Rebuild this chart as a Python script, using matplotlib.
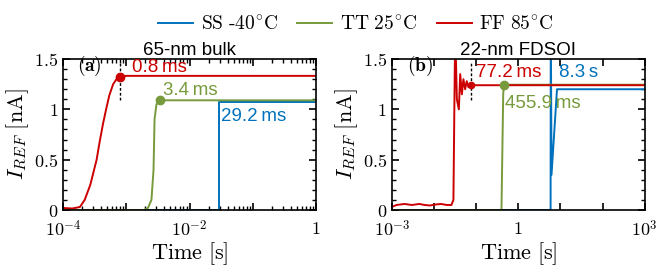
import matplotlib
matplotlib.use('Agg')
import matplotlib.pyplot as plt
from matplotlib.ticker import LogLocator, MultipleLocator, FixedLocator, NullFormatter
import numpy as np

plt.rcParams['mathtext.fontset'] = 'cm'
plt.rcParams['font.family'] = 'serif'
plt.rcParams['font.serif'] = ['DejaVu Serif']

blue = '#0072BD'
green = '#779B3C'
red = '#CC0000'

# panel (a): 65-nm bulk
a_ss_t = [1e-4, 0.0292, 0.0292, 1.0]
a_ss_i = [0.0, 0.0, 1.075, 1.075]
a_tt_t = [1e-4, 1.9e-3, 2.2e-3, 2.5e-3, 2.7e-3, 2.8e-3, 3.0e-3, 3.4e-3, 1.0]
a_tt_i = [0.0, 0.0, 0.02, 0.1, 0.4, 0.9, 1.05, 1.09, 1.09]
a_ff_t = [1e-4, 1.4e-4, 1.85e-4, 2.2e-4, 2.7e-4, 3.1e-4, 3.4e-4, 3.8e-4, 4.3e-4,
          4.8e-4, 5.4e-4, 6.2e-4, 7.0e-4, 8e-4, 1e-3, 1.0]
a_ff_i = [0.02, 0.015, 0.03, 0.1, 0.25, 0.4, 0.5, 0.68, 0.86, 1.0, 1.14, 1.25,
          1.3, 1.32, 1.333, 1.333]
a_marks = [(8e-4, 1.32, '0.8\u2009ms'), (3.4e-3, 1.09, '3.4\u2009ms'), (0.0292, 1.075, '29.2\u2009ms')]

# panel (b): 22-nm FDSOI
b_ss_t = [1e-3, 5.85, 5.9, 6.15, 8.3, 1000.0]
b_ss_i = [0.0, 0.0, 2.0, 0.35, 1.2, 1.2]
b_tt_t = [1e-3, 0.40, 0.42, 0.44, 0.4559, 1000.0]
b_tt_i = [0.0, 0.0, 0.6, 1.15, 1.245, 1.245]
b_ff_t = [1e-3, 1.3e-3, 2e-3, 3e-3, 4.5e-3, 6e-3, 8e-3, 1.1e-2, 1.5e-2, 2e-2, 2.6e-2,
          2.9e-2, 3.05e-2, 3.2e-2, 3.5e-2, 3.9e-2, 4.2e-2, 4.6e-2, 5.0e-2, 5.5e-2,
          6.0e-2, 6.6e-2, 7.2e-2, 0.0772, 0.1, 1000.0]
b_ff_i = [0.03, 0.05, 0.06, 0.05, 0.06, 0.05, 0.045, 0.055, 0.06, 0.05, 0.05,
          0.1, 1.0, 1.8, 1.1, 1.0, 1.35, 1.15, 1.3, 1.2, 1.28, 1.22, 1.25, 1.24, 1.24, 1.24]
b_marks = [(0.0772, 1.24, '77.2\u2009ms'), (0.4559, 1.245, '455.9\u2009ms'), (8.3, 1.2, '8.3\u2009s')]

fig = plt.figure(figsize=(6.64, 2.66), dpi=100)
ax_a = fig.add_axes([0.0949, 0.2105, 0.381, 0.5675])
ax_b = fig.add_axes([0.590, 0.2105, 0.381, 0.5675])

lw = 1.4
for ax, ss, tt, ff in [(ax_a, (a_ss_t, a_ss_i), (a_tt_t, a_tt_i), (a_ff_t, a_ff_i)),
                       (ax_b, (b_ss_t, b_ss_i), (b_tt_t, b_tt_i), (b_ff_t, b_ff_i))]:
    ax.plot(*ss, color=blue, lw=lw, label=r'$\mathrm{SS\ \text{-}40^{\circ}C}$')
    ax.plot(*tt, color=green, lw=lw, label=r'$\mathrm{TT\ 25^{\circ}C}$')
    ax.plot(*ff, color=red, lw=lw, label=r'$\mathrm{FF\ 85^{\circ}C}$')
    ax.set_xscale('log')
    ax.set_ylim(0, 1.5)
    ax.yaxis.set_major_locator(FixedLocator([0, 0.5, 1, 1.5]))
    ax.yaxis.set_minor_locator(MultipleLocator(0.1))
    ax.set_yticklabels([r'$0$', r'$0.5$', r'$1$', r'$1.5$'])
    ax.tick_params(which='both', direction='in', top=True, right=True, labelsize=13)
    ax.tick_params(axis='x', pad=7)
    ax.tick_params(which='major', length=5, width=1.2)
    ax.tick_params(which='minor', length=3, width=1.0)
    for s in ax.spines.values():
        s.set_linewidth(1.2)
    ax.set_xlabel(r'$\mathrm{Time\ [s]}$', fontsize=16, labelpad=0)
    ax.set_ylabel(r'$I_{REF}\ \mathrm{[nA]}$', fontsize=16, labelpad=2)

# panel (a) axes
ax_a.set_xlim(1e-4, 1)
ax_a.xaxis.set_major_locator(FixedLocator([1e-4, 1e-3, 1e-2, 1e-1, 1]))
ax_a.xaxis.set_minor_locator(LogLocator(base=10, subs=np.arange(2, 10), numticks=20))
ax_a.xaxis.set_minor_formatter(NullFormatter())
ax_a.set_xticklabels([r'$10^{-4}$', '', r'$10^{-2}$', '', r'$1$'])

# panel (b) axes
ax_b.set_xlim(1e-3, 1e3)
ax_b.xaxis.set_major_locator(FixedLocator([1e-3, 1e-2, 1e-1, 1, 1e1, 1e2, 1e3]))
ax_b.xaxis.set_minor_locator(FixedLocator([]))
ax_b.set_xticklabels([r'$10^{-3}$', '', '', r'$1$', '', '', r'$10^{3}$'])

sans = 'Liberation Sans'
fs = 13.5

# markers, dashed lines and annotations for (a)
ax_a.plot([a_marks[0][0]] * 2, [1.09, 1.46], 'k--', lw=1.0, dashes=(2, 1.5))
ax_a.plot(a_marks[0][0], a_marks[0][1], 'o', color=red, ms=6)
ax_a.plot(a_marks[1][0], a_marks[1][1], 'o', color=green, ms=6)
ax_a.text(1.22e-3, 1.42, a_marks[0][2], color=red, family=sans, fontsize=fs, va='center')
ax_a.text(3.8e-3, 1.19, a_marks[1][2], color=green, family=sans, fontsize=fs, va='center')
ax_a.text(0.031, 0.93, a_marks[2][2], color=blue, family=sans, fontsize=fs, va='center')
ax_a.text(1.65e-4, 1.43, r'$\mathbf{(a)}$', fontsize=14, va='center')
ax_a.set_title('65-nm bulk', family=sans, fontsize=13.5, pad=3)

# (b)
ax_b.plot([b_marks[0][0]] * 2, [1.09, 1.46], 'k--', lw=1.0, dashes=(2, 1.5))
ax_b.plot(b_marks[0][0], b_marks[0][1], 'o', color=red, ms=4.5)
ax_b.plot(b_marks[1][0], b_marks[1][1], 'o', color=green, ms=6)
ax_b.text(0.098, 1.37, b_marks[0][2], color=red, family=sans, fontsize=fs, va='center')
ax_b.text(0.49, 1.06, b_marks[1][2], color=green, family=sans, fontsize=fs, va='center')
ax_b.text(9.2, 1.37, b_marks[2][2], color=blue, family=sans, fontsize=fs, va='center')
ax_b.text(2.3e-3, 1.43, r'$\mathbf{(b)}$', fontsize=14, va='center')
ax_b.set_title('22-nm FDSOI', family=sans, fontsize=13.5, pad=3)

handles, labels = ax_a.get_legend_handles_labels()
fig.legend(handles, labels, loc='upper center', bbox_to_anchor=(0.536, 1.01), ncol=3,
           frameon=False, fontsize=14, handlelength=1.8, handletextpad=0.4,
           columnspacing=1.0)

fig.savefig('out.png', dpi=100)
